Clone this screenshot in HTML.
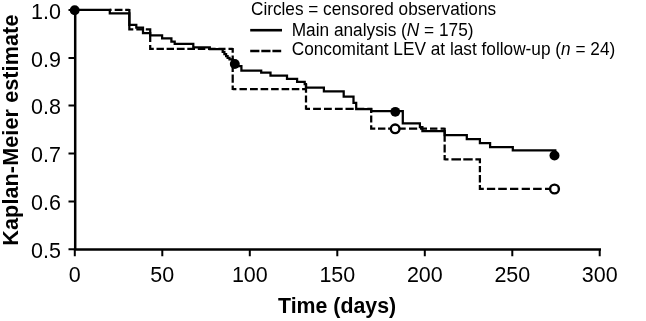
<!DOCTYPE html>
<html>
<head>
<meta charset="utf-8">
<style>
html,body{margin:0;padding:0;background:#fff;}
body{width:646px;height:321px;overflow:hidden;}
svg{display:block;will-change:transform;}
text{font-family:"Liberation Sans",sans-serif;fill:#000;}
.tk{font-size:21.5px;}
.lg{font-size:17.2px;}
.ax{font-size:21.6px;font-weight:bold;}
</style>
</head>
<body>
<svg width="646" height="321" viewBox="0 0 646 321">
<rect width="646" height="321" fill="#fff"/>
<g stroke="#000" stroke-width="2" fill="none">
<path d="M75.2 9.9V249.5" stroke-width="2.5"/>
<path d="M73.9 249.5H601" stroke-width="2.7"/>
<path d="M68.5 10H75M68.5 57.9H75M68.5 105.5H75M68.5 153.5H75M68.5 201.5H75M68.5 249.3H75"/>
<path d="M74.8 249V256.2M162.3 249V256.2M249.8 249V256.2M337.3 249V256.2M424.8 249V256.2M512.3 249V256.2M599.7 249V256.2"/>
</g>
<g class="tk" text-anchor="end">
<text transform="translate(61,18.65) scale(1,1.05)">1.0</text>
<text transform="translate(61,66.55) scale(1,1.05)">0.9</text>
<text transform="translate(61,114.45) scale(1,1.05)">0.8</text>
<text transform="translate(61,162.35) scale(1,1.05)">0.7</text>
<text transform="translate(61,210.25) scale(1,1.05)">0.6</text>
<text transform="translate(61,258.15) scale(1,1.05)">0.5</text>
</g>
<g class="tk" text-anchor="middle">
<text transform="translate(74.8,282.1) scale(1,1.06)">0</text>
<text transform="translate(162.3,282.1) scale(1,1.06)">50</text>
<text transform="translate(249.8,282.1) scale(1,1.06)">100</text>
<text transform="translate(337.3,282.1) scale(1,1.06)">150</text>
<text transform="translate(424.8,282.1) scale(1,1.06)">200</text>
<text transform="translate(512.3,282.1) scale(1,1.06)">250</text>
<text transform="translate(599.7,282.1) scale(1,1.06)">300</text>
</g>
<text class="ax" transform="translate(337.1,313.3) scale(1,1.06)" text-anchor="middle" style="font-size:21.33px">Time (days)</text>
<text class="ax" transform="translate(18.4,130.1) rotate(-90) scale(1,0.985)" text-anchor="middle" style="letter-spacing:0.1px">Kaplan-Meier estimate</text>
<g class="lg">
<text transform="translate(251,15.4) scale(1,1.045)">Circles = censored observations</text>
<text transform="translate(291.7,35.5) scale(1,1.045)" style="font-size:17.28px">Main analysis (<tspan font-style="italic">N</tspan> = 175)</text>
<text transform="translate(291.7,55.4) scale(1,1.045)" style="font-size:17.26px">Concomitant LEV at last follow-up (<tspan font-style="italic">n</tspan> = 24)</text>
</g>
<path d="M250.2 30.2H282" stroke="#000" stroke-width="2.6"/>
<path d="M250.2 51H259.4M261.3 51H270.5M272.4 51H281.2" stroke="#000" stroke-width="2.6"/>
<path fill="none" stroke="#000" stroke-width="2.25" d="M109.8 9.95H111.6M114.7 9.95H122.5M125.2 9.95H129.4M129.4 29.3H133.3M136.3 29.3H143M145.8 29.3H150.3M150.2 48.95H153.8M156.5 48.95H163.9M166.6 48.95H174M176.8 48.95H184.6M187.3 48.95H195M197.8 48.95H205.3M208 48.95H215.6M218.4 48.95H225.5M228.5 48.95H232.7M232.7 89H236.4M239.5 89H246.9M250 89H257.8M260.6 89H268.2M271.1 89H278.7M281.6 89H289.2M291.8 89H299.3M302.1 89H306M306 108.8H310M313.1 108.8H320.9M324 108.8H331.8M334.9 108.8H342.7M345.5 108.8H353.7M356.5 108.8H364.3M367.3 108.8H371.2M371.2 128.7H375.3M378 128.7H385.4M388.1 128.7H391M400 128.7H405.7M409 128.7H417.2M420 128.7H427M430 128.7H437.4M440.6 128.7H444.7M444.65 159.3H448.5M451.4 159.3H461M463.3 159.3H472.7M475.4 159.3H479.9M479.9 188.9H483.8M486.9 188.9H495.2M498.2 188.9H506.8M510 188.9H518.3M521.7 188.9H529.9M533.1 188.9H541.7M545 188.9H550M129.35 8.9V30.4M150.2 28.3V42.1M150.2 45V50M232.7 47.9V52.8M232.7 55.5V62M232.7 67.6V71.9M232.7 74.6V82.7M232.7 85.5V90.05M306 84V92.8M306 95.5V102.5M306 105.2V109.85M371.2 107.7V112.9M371.2 115.5V122.5M371.2 125.2V129.75M444.65 127.65V141.8M444.65 144.6V152.6M444.65 155V160.35M479.9 158.25V163.2M479.9 165.9V172.3M479.9 175V182.4M479.9 185.1V189.95"/>
<path fill="none" stroke="#000" stroke-width="2.25" stroke-linejoin="miter" d="M75 9.95H109.8V13.25H129.35V24.8H136.3V27.5H143V33.2H150.2V35.3H162.1V38.4H171.4V41.5H174.7V43.8H193.3V47.3H209.8V49H222.7V51.9H224.4V54.1H226.1V56H227.6V57.8H229.5V59.4H232.6V64H238V66.2H241.4V70.5H261.2V72.6H270.5V75.5H287V78.8H297.1V81.9H304.7V84.2H306V87.5H323.9V91.3H343.7V96.6H353.5V102.8H356.2V109H371.2V111.2H402.8V123.3H419.9V127H422.4V131.1H444.7V135.2H466.8V139.2H479.9V143.2H490.1V147H512.8V150.3H556.4"/>
<g fill="#000" stroke="none">
<circle cx="74.7" cy="10.2" r="4.95"/>
<circle cx="234.8" cy="64" r="4.95"/>
<circle cx="395.3" cy="111.8" r="4.9"/>
<circle cx="554.5" cy="155.5" r="5"/>
</g>
<g fill="#fff" stroke="#000" stroke-width="2.4">
<circle cx="395.15" cy="128.8" r="4.35"/>
<circle cx="554.5" cy="189" r="4.4"/>
</g>
</svg>
</body>
</html>
